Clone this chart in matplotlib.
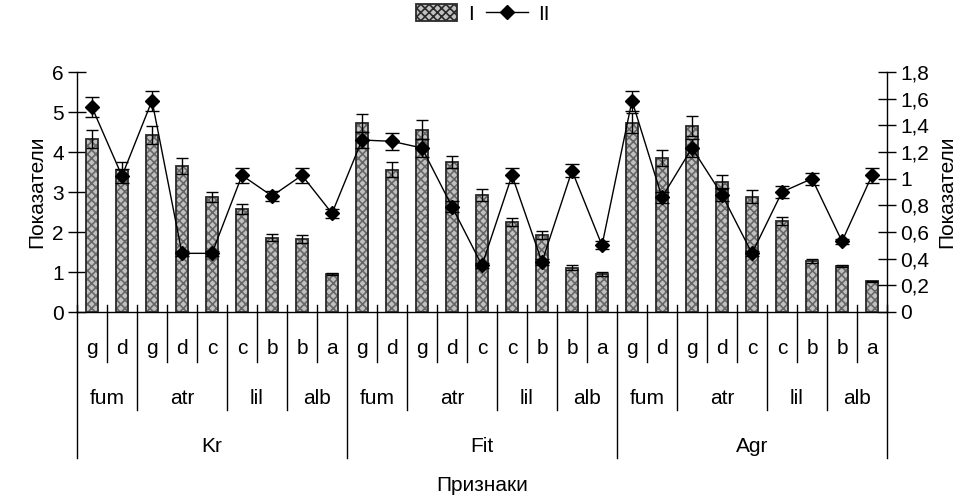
import matplotlib
matplotlib.use("Agg")
import matplotlib.pyplot as plt
from matplotlib.patches import Patch
from matplotlib.lines import Line2D
import numpy as np

plt.rcParams["font.family"] = ["Liberation Sans", "DejaVu Sans"]
plt.rcParams["font.size"] = 15
plt.rcParams["hatch.linewidth"] = 1.2

# --- data ---
species = ["Kr", "Fit", "Agr"]
groups = ["fum", "atr", "lil", "alb"]
group_sizes = [2, 3, 2, 2]
levels = ["g", "d", "g", "d", "c", "c", "b", "b", "a"]

bar_vals = [4.33, 3.56, 4.43, 3.65, 2.88, 2.58, 1.86, 1.83, 0.95,
            4.73, 3.56, 4.56, 3.75, 2.93, 2.24, 1.93, 1.11, 0.94,
            4.73, 3.85, 4.65, 3.25, 2.88, 2.28, 1.28, 1.15, 0.77]
bar_err = [0.23, 0.19, 0.22, 0.19, 0.13, 0.12, 0.09, 0.10, 0.02,
           0.23, 0.19, 0.23, 0.16, 0.15, 0.10, 0.10, 0.06, 0.05,
           0.25, 0.19, 0.24, 0.18, 0.16, 0.10, 0.05, 0.03, 0.01]

line_vals = [1.535, 1.02, 1.585, 0.44, 0.44, 1.025, 0.87, 1.025, 0.74,
             1.29, 1.28, 1.23, 0.79, 0.35, 1.025, 0.375, 1.06, 0.50,
             1.585, 0.86, 1.23, 0.88, 0.44, 0.90, 1.00, 0.53, 1.025]
line_err = [0.075, 0.05, 0.075, 0.02, 0.02, 0.055, 0.035, 0.055, 0.035,
            0.06, 0.065, 0.07, 0.04, 0.02, 0.055, 0.02, 0.05, 0.03,
            0.075, 0.04, 0.07, 0.05, 0.02, 0.045, 0.045, 0.02, 0.055]

left_ticks = [0, 1, 2, 3, 4, 5, 6]
right_ticks = [0, 0.2, 0.4, 0.6, 0.8, 1.0, 1.2, 1.4, 1.6, 1.8]
right_labels = ["0", "0,2", "0,4", "0,6", "0,8", "1", "1,2", "1,4", "1,6", "1,8"]

n = len(bar_vals)
x = np.arange(n)

fig = plt.figure(figsize=(9.71, 4.97), dpi=100)
ax = fig.add_axes([77 / 971, 1 - 312 / 497, 810 / 971, 240 / 497])

# bars: hatched fill then outline
ax.bar(x, bar_vals, width=0.4, color="#c0c0c0", edgecolor="#666666",
       hatch="xxxx", linewidth=0, zorder=2)
ax.bar(x, bar_vals, width=0.4, fill=False, edgecolor="#2a2a2a",
       linewidth=1.3, zorder=3)
ax.errorbar(x, bar_vals, yerr=bar_err, fmt="none", ecolor="black",
            elinewidth=1, capsize=4.5, capthick=1, zorder=4)

ax.set_xlim(-0.5, n - 0.5)
ax.set_ylim(0, 6)
ax.set_yticks(left_ticks)
ax.set_xticks([])
ax.tick_params(axis="y", direction="inout", length=13, width=1, pad=3)
ax.spines["top"].set_visible(False)
ax.spines["right"].set_visible(False)
ax.spines["left"].set_linewidth(1)
ax.spines["bottom"].set_linewidth(1)
ax.set_ylabel("Показатели", labelpad=4)

ax2 = ax.twinx()
ax2.errorbar(x, line_vals, yerr=line_err, fmt="-D", color="black",
             markersize=7.5, linewidth=1, elinewidth=1, capsize=5,
             capthick=1, zorder=5)
ax2.set_ylim(0, 1.8)
ax2.set_yticks(right_ticks)
ax2.set_yticklabels(right_labels)
ax2.tick_params(axis="y", direction="inout", length=13, width=1, pad=3)
ax2.spines["top"].set_visible(False)
ax2.spines["left"].set_visible(False)
ax2.spines["bottom"].set_visible(False)
ax2.spines["right"].set_linewidth(1)
ax2.set_ylabel("Показатели", labelpad=6)

# --- hierarchical category axis ---
trans = ax.get_xaxis_transform()
lk = dict(color="black", linewidth=1, clip_on=False, transform=trans)
top = 7 / 240
row1_y, row2_y, row3_y = -36 / 240, -86 / 240, -134 / 240
row1_end, row2_end, row3_end = -50 / 240, -98 / 240, -146 / 240

pos = 0
for sp in species:
    start_sp = pos
    ax.add_line(Line2D([pos - 0.5, pos - 0.5], [top, row3_end], **lk))
    for lev in levels:
        ax.text(pos, row1_y, lev, transform=trans, ha="center", va="center")
        pos += 1
    pos = start_sp
    for gi, (g, gs) in enumerate(zip(groups, group_sizes)):
        if gi > 0:
            ax.add_line(Line2D([pos - 0.5, pos - 0.5], [top, row2_end], **lk))
        for k in range(1, gs):
            ax.add_line(Line2D([pos + k - 0.5] * 2, [top, row1_end], **lk))
        ax.text(pos + (gs - 1) / 2, row2_y, g, transform=trans,
                ha="center", va="center")
        pos += gs
    ax.text((start_sp + pos - 1) / 2, row3_y, sp, transform=trans,
            ha="center", va="center")
ax.add_line(Line2D([n - 0.5, n - 0.5], [top, row3_end], **lk))

ax.text(0.5, -174 / 240, "Признаки", transform=ax.transAxes,
        ha="center", va="center")

# legend
h1 = Patch(facecolor="#c0c0c0", edgecolor="#2a2a2a", hatch="xxxx", linewidth=1.3)
h2 = Line2D([], [], color="black", marker="D", markersize=7.5, linewidth=1)
fig.legend([h1, h2], ["I", "II"], loc="center", bbox_to_anchor=(0.497, 1 - 14 / 497),
           ncol=2, frameon=False, handlelength=2.0, handleheight=0.9,
           handletextpad=0.5, columnspacing=0.6)

fig.savefig("out.png", dpi=100)
